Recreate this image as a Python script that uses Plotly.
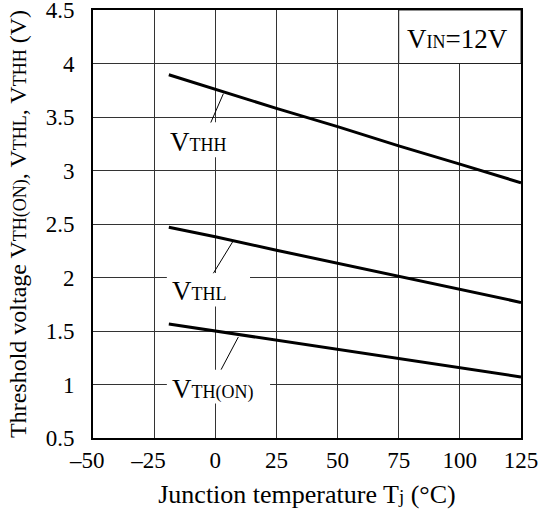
import plotly.graph_objects as go

# Junction temperature samples (°C)
tj = [-19, 0, 25, 50, 75, 100, 125]

# Threshold voltages (V) at VIN = 12 V
v_thh = [3.895, 3.76, 3.58, 3.41, 3.23, 3.06, 2.885]
v_thl = [2.469, 2.38, 2.255, 2.133, 2.011, 1.89, 1.767]
v_th_on = [1.565, 1.50, 1.414, 1.328, 1.243, 1.157, 1.071]

x_ticks = [-50, -25, 0, 25, 50, 75, 100, 125]
x_tick_text = ["\u201350", "\u201325", "0", "25", "50", "75", "100", "125"]
y_ticks = [0.5, 1, 1.5, 2, 2.5, 3, 3.5, 4, 4.5]
y_tick_text = ["0.5", "1", "1.5", "2", "2.5", "3", "3.5", "4", "4.5"]

FONT = "Liberation Serif"
SUB = "font-size:18px"


def tick_label(t):
    # keep the digits centred on the gridline: pad negatives with an invisible dash
    if t.startswith("\u2013"):
        return t + "<span style='color:white'>\u2013</span>"
    return t


fig = go.Figure()
for ys in (v_thh, v_thl, v_th_on):
    fig.add_trace(go.Scatter(x=tj, y=ys, mode="lines",
                             line=dict(color="black", width=3),
                             showlegend=False, hoverinfo="skip"))

shapes = []
# white panels behind the curve labels (over the grid, under the curves)
for x0, x1, y0, y1 in [(-19.8, 14.2, 3.124, 3.451),
                       (-19.8, 14.2, 1.729, 2.043),
                       (-19.8, 22.4, 0.822, 1.139)]:
    shapes.append(dict(type="rect", xref="x", yref="y", x0=x0, x1=x1, y0=y0, y1=y1,
                       fillcolor="white", line=dict(width=0), layer="between"))
# condition box in the top-right cell
shapes.append(dict(type="rect", xref="x", yref="y", x0=75, x1=125, y0=4, y1=4.5,
                   fillcolor="white", line=dict(color="#222", width=1), layer="between"))
# leader lines from labels to curves
for x0, y0, x1, y1 in [(-1.84, 3.448, 3.31, 3.718),
                       (-0.78, 2.04, 7.14, 2.335),
                       (2.37, 1.139, 9.43, 1.444)]:
    shapes.append(dict(type="line", xref="x", yref="y", x0=x0, y0=y0, x1=x1, y1=y1,
                       line=dict(color="black", width=1), layer="above"))

annotations = [
    dict(x=-6.8, y=3.27, text=f"V<span style='{SUB}'>THH</span>"),
    dict(x=-6.3, y=1.87, text=f"V<span style='{SUB}'>THL</span>"),
    dict(x=-1.0, y=0.958, text=f"V<span style='{SUB}'>TH(ON)</span>"),
    dict(x=99.1, y=4.228, text=f"V<span style='{SUB}'>IN</span>=12V"),
]
for a in annotations:
    a.update(xref="x", yref="y", showarrow=False, xanchor="center", yanchor="middle",
             font=dict(family=FONT, size=27, color="black"))

fig.update_layout(
    width=542, height=519, autosize=False,
    margin=dict(l=93, r=20.5, t=9.5, b=80.5, autoexpand=False),
    paper_bgcolor="white", plot_bgcolor="white",
    font=dict(family=FONT, color="black"),
    shapes=shapes, annotations=annotations,
    xaxis=dict(
        range=[-50, 125], tickvals=x_ticks, ticktext=[tick_label(t) for t in x_tick_text],
        showgrid=True, gridcolor="#333", gridwidth=1, zeroline=False,
        showline=True, mirror=True, linecolor="black", linewidth=2,
        ticks="", tickfont=dict(family=FONT, size=23), ticklabeloverflow="allow",
        automargin=False,
        title=dict(text="Junction temperature T<span style='font-size:19px'>j</span> (\u00b0C)",
                   font=dict(family=FONT, size=26), standoff=13),
    ),
    yaxis=dict(
        range=[0.5, 4.5], tickvals=y_ticks, ticktext=y_tick_text,
        showgrid=True, gridcolor="#333", gridwidth=1, zeroline=False,
        showline=True, mirror=True, linecolor="black", linewidth=2,
        ticks="", tickfont=dict(family=FONT, size=23), ticklabelstandoff=12,
        ticklabeloverflow="allow", automargin=False,
        title=dict(text=(f"Threshold voltage V<span style='{SUB}'>TH(ON)</span>, "
                         f"V<span style='{SUB}'>THL</span>, V<span style='{SUB}'>THH</span> (V)"),
                   font=dict(family=FONT, size=24), standoff=12),
    ),
)

fig.write_html("out.html")
